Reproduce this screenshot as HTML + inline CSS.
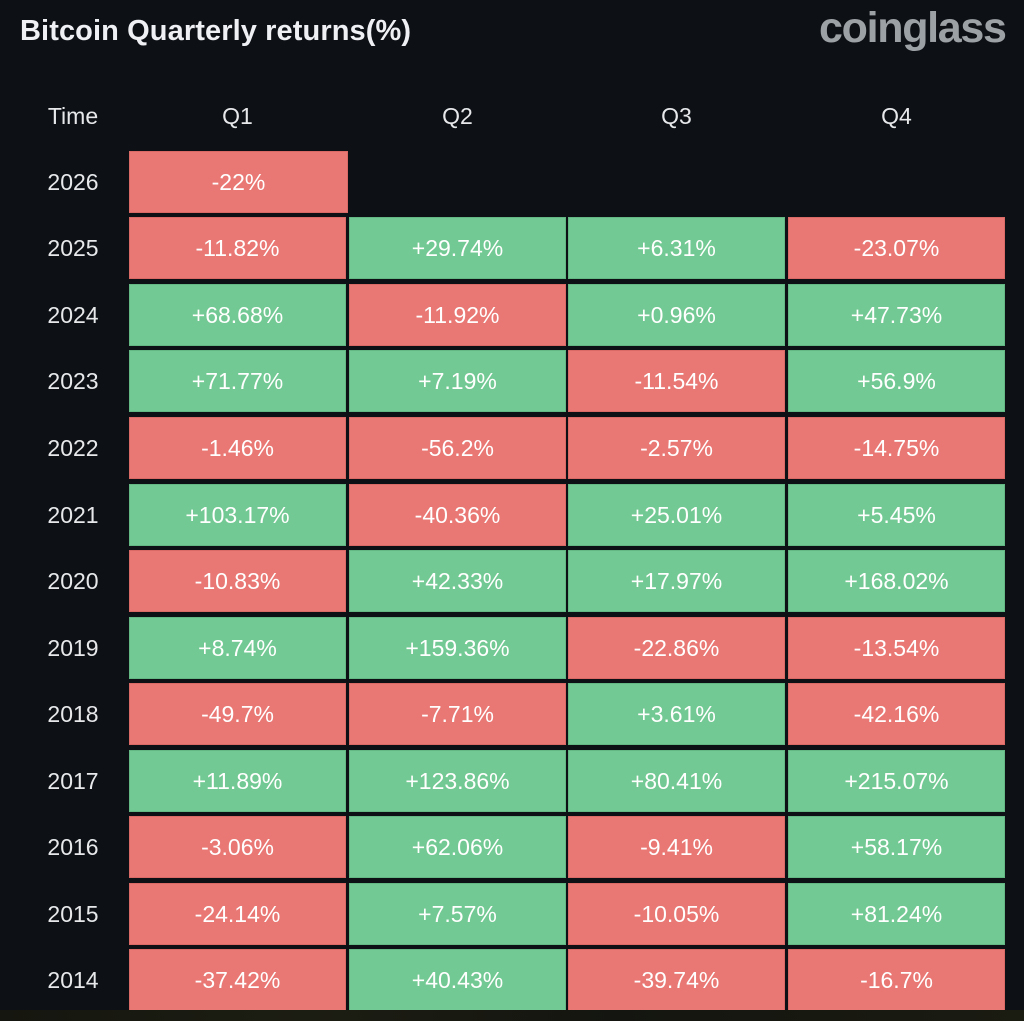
<!DOCTYPE html>
<html><head><meta charset="utf-8"><style>
html,body{margin:0;padding:0;}
body{width:1024px;height:1021px;background:#0d1015;position:relative;overflow:hidden;font-family:"Liberation Sans",sans-serif;}
.t{position:absolute;left:20px;top:15px;font-size:29px;font-weight:bold;color:#eef0f4;letter-spacing:0.1px;white-space:nowrap;}
.logo{position:absolute;left:819px;top:4px;font-size:43px;font-weight:bold;color:#9ca1a5;letter-spacing:-1.3px;white-space:nowrap;}
.h{position:absolute;top:103px;height:26px;line-height:26px;font-size:23px;color:#e6e8ea;text-align:center;}
.y{position:absolute;left:33px;width:80px;text-align:center;font-size:23px;color:#e6e8ea;height:62px;line-height:62px;}
.c{position:absolute;width:215px;height:60px;line-height:60px;text-align:center;font-size:23px;color:#fff;}
.r{background:#e97874;border:1px solid #d96a66;}
.g{background:#73c993;border:1px solid #64b883;}
.bot{position:absolute;left:0;top:1010px;width:1024px;height:11px;background:linear-gradient(90deg,#15160f,#1c1d12 30%,#141510 60%,#1a1b11);}
</style></head><body>
<div class="t">Bitcoin Quarterly returns(%)</div>
<div class="logo">coinglass</div>
<div class="h" style="left:33px;width:80px">Time</div>
<div class="h" style="left:129px;width:217px">Q1</div>
<div class="h" style="left:349px;width:217px">Q2</div>
<div class="h" style="left:568px;width:217px">Q3</div>
<div class="h" style="left:788px;width:217px">Q4</div>

<div class="y" style="top:151px">2026</div>
<div class="c r" style="left:129px;top:151px;width:217px">-22%</div>

<div class="y" style="top:217px">2025</div>
<div class="c r" style="left:129px;top:217px">-11.82%</div>
<div class="c g" style="left:349px;top:217px">+29.74%</div>
<div class="c g" style="left:568px;top:217px">+6.31%</div>
<div class="c r" style="left:788px;top:217px">-23.07%</div>

<div class="y" style="top:284px">2024</div>
<div class="c g" style="left:129px;top:284px">+68.68%</div>
<div class="c r" style="left:349px;top:284px">-11.92%</div>
<div class="c g" style="left:568px;top:284px">+0.96%</div>
<div class="c g" style="left:788px;top:284px">+47.73%</div>

<div class="y" style="top:350px">2023</div>
<div class="c g" style="left:129px;top:350px">+71.77%</div>
<div class="c g" style="left:349px;top:350px">+7.19%</div>
<div class="c r" style="left:568px;top:350px">-11.54%</div>
<div class="c g" style="left:788px;top:350px">+56.9%</div>

<div class="y" style="top:417px">2022</div>
<div class="c r" style="left:129px;top:417px">-1.46%</div>
<div class="c r" style="left:349px;top:417px">-56.2%</div>
<div class="c r" style="left:568px;top:417px">-2.57%</div>
<div class="c r" style="left:788px;top:417px">-14.75%</div>

<div class="y" style="top:484px">2021</div>
<div class="c g" style="left:129px;top:484px">+103.17%</div>
<div class="c r" style="left:349px;top:484px">-40.36%</div>
<div class="c g" style="left:568px;top:484px">+25.01%</div>
<div class="c g" style="left:788px;top:484px">+5.45%</div>

<div class="y" style="top:550px">2020</div>
<div class="c r" style="left:129px;top:550px">-10.83%</div>
<div class="c g" style="left:349px;top:550px">+42.33%</div>
<div class="c g" style="left:568px;top:550px">+17.97%</div>
<div class="c g" style="left:788px;top:550px">+168.02%</div>

<div class="y" style="top:617px">2019</div>
<div class="c g" style="left:129px;top:617px">+8.74%</div>
<div class="c g" style="left:349px;top:617px">+159.36%</div>
<div class="c r" style="left:568px;top:617px">-22.86%</div>
<div class="c r" style="left:788px;top:617px">-13.54%</div>

<div class="y" style="top:683px">2018</div>
<div class="c r" style="left:129px;top:683px">-49.7%</div>
<div class="c r" style="left:349px;top:683px">-7.71%</div>
<div class="c g" style="left:568px;top:683px">+3.61%</div>
<div class="c r" style="left:788px;top:683px">-42.16%</div>

<div class="y" style="top:750px">2017</div>
<div class="c g" style="left:129px;top:750px">+11.89%</div>
<div class="c g" style="left:349px;top:750px">+123.86%</div>
<div class="c g" style="left:568px;top:750px">+80.41%</div>
<div class="c g" style="left:788px;top:750px">+215.07%</div>

<div class="y" style="top:816px">2016</div>
<div class="c r" style="left:129px;top:816px">-3.06%</div>
<div class="c g" style="left:349px;top:816px">+62.06%</div>
<div class="c r" style="left:568px;top:816px">-9.41%</div>
<div class="c g" style="left:788px;top:816px">+58.17%</div>

<div class="y" style="top:883px">2015</div>
<div class="c r" style="left:129px;top:883px">-24.14%</div>
<div class="c g" style="left:349px;top:883px">+7.57%</div>
<div class="c r" style="left:568px;top:883px">-10.05%</div>
<div class="c g" style="left:788px;top:883px">+81.24%</div>

<div class="y" style="top:949px">2014</div>
<div class="c r" style="left:129px;top:949px">-37.42%</div>
<div class="c g" style="left:349px;top:949px">+40.43%</div>
<div class="c r" style="left:568px;top:949px">-39.74%</div>
<div class="c r" style="left:788px;top:949px">-16.7%</div>

<div class="bot"></div>
</body></html>
